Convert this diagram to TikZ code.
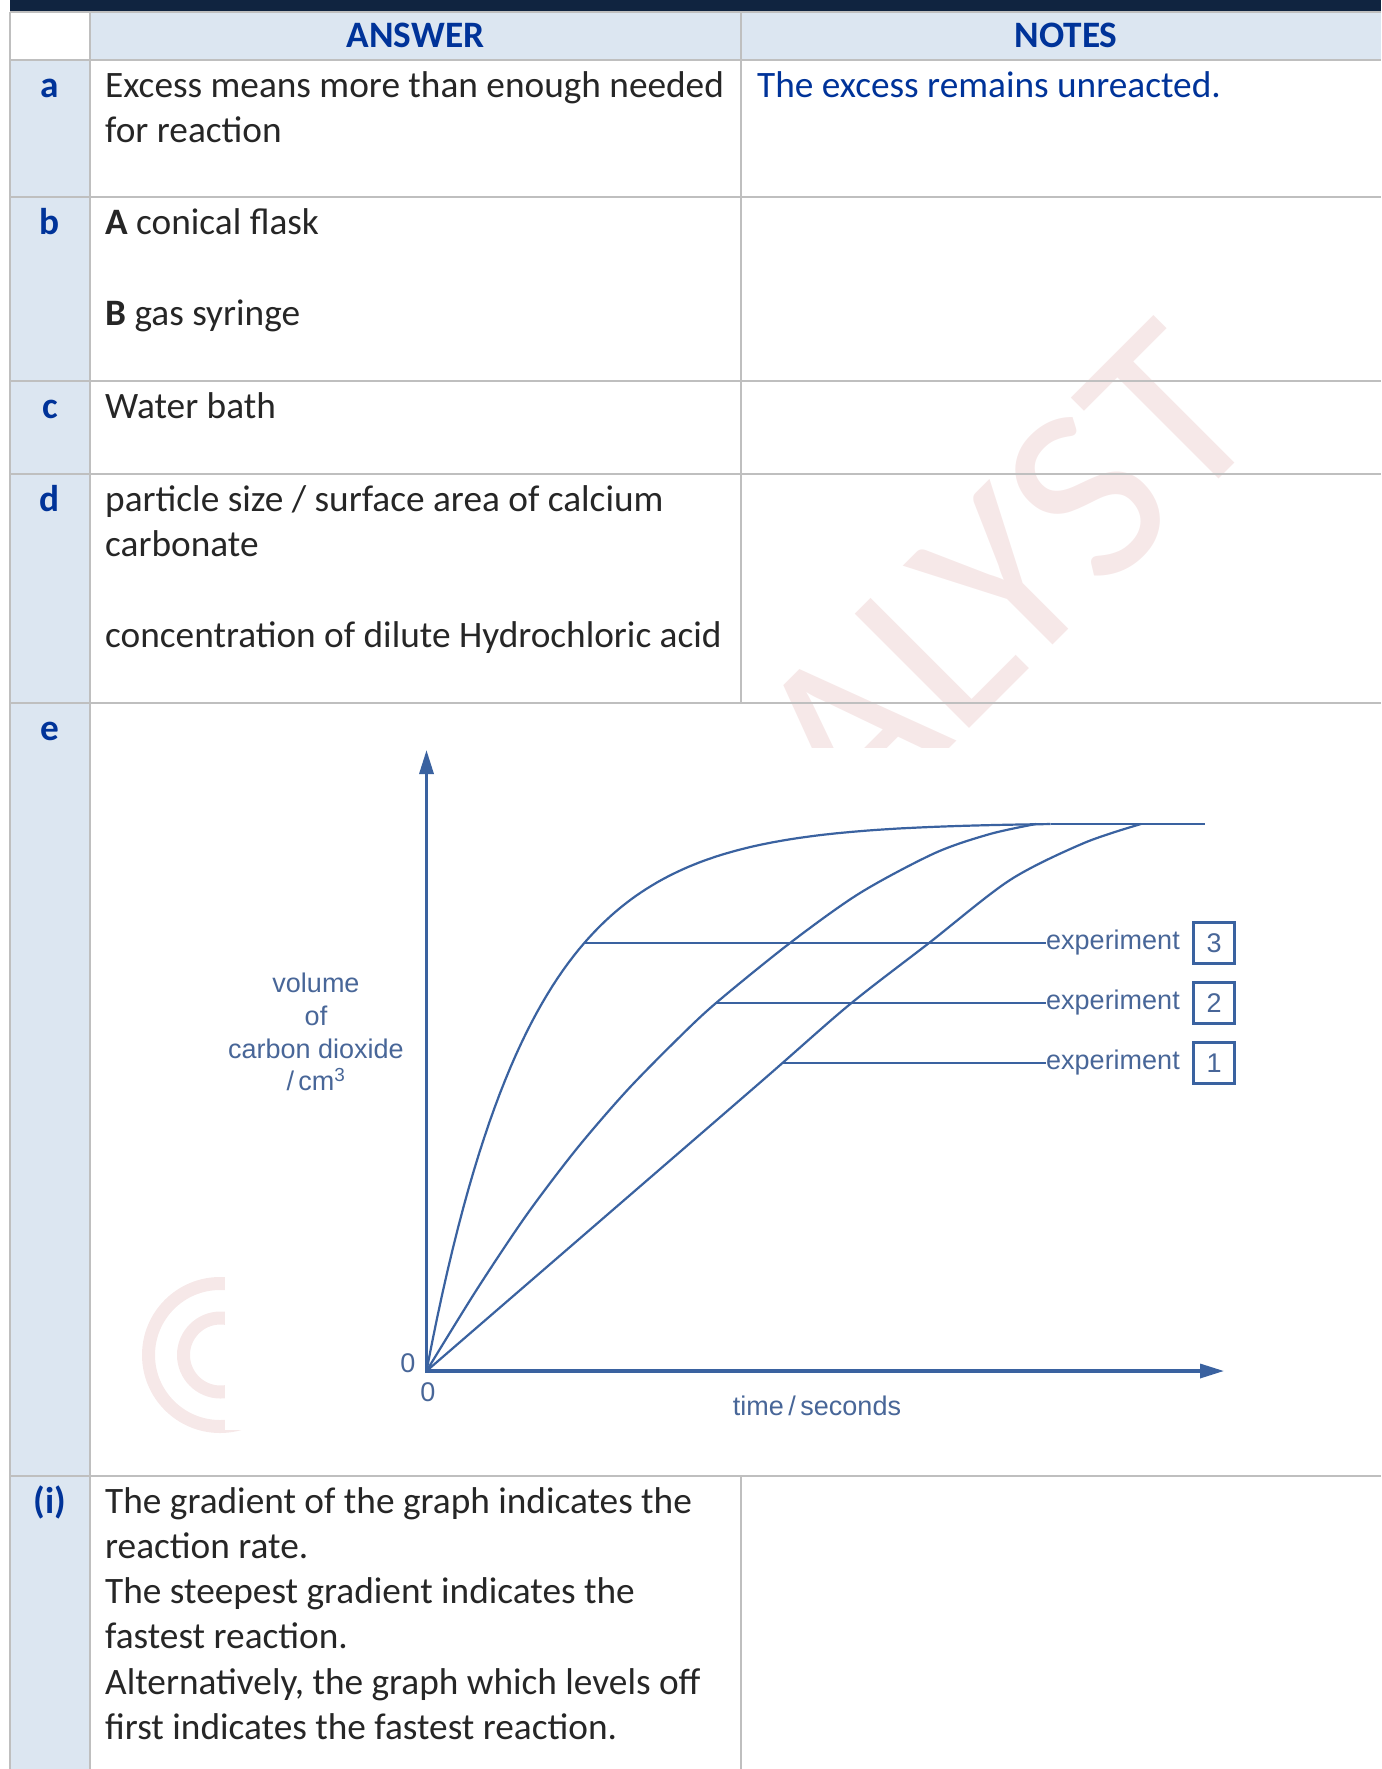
\documentclass[tikz,border=0pt]{standalone}
\usepackage{fontspec}
\setmainfont{Carlito}
\newfontfamily\graphfont{Liberation Sans}
\usetikzlibrary{arrows.meta}

\definecolor{topbar}{RGB}{16,36,64}
\definecolor{cellblue}{RGB}{220,230,241}
\definecolor{gridgray}{RGB}{191,191,191}
\definecolor{headblue}{RGB}{0,51,153}
\definecolor{celltext}{RGB}{38,38,38}
\definecolor{wmpink}{RGB}{246,232,232}
\definecolor{graphblue}{RGB}{58,98,160}
\definecolor{graphtext}{RGB}{72,102,152}

\tikzset{
  gridline/.style={draw=gridgray, line width=2pt},
  cell/.style={font=\fontsize{37.3}{45.3}\selectfont, text=celltext, inner sep=0pt, anchor=base west, align=left},
  note/.style={cell, text=headblue},
  head/.style={font=\fontsize{37.3}{45.3}\selectfont\bfseries, text=headblue, inner sep=0pt, anchor=base},
  wmark/.style={font=\fontsize{252}{252}\selectfont, text=wmpink, inner sep=0pt, anchor=base west, rotate=45},
  axis/.style={draw=graphblue, line width=3.3pt, {Triangle[length=24pt,width=14pt]}-{Triangle[length=24pt,width=14pt]}},
  curve/.style={draw=graphblue, line width=2.2pt},
  leader/.style={draw=graphblue, line width=1.6pt},
  glabel/.style={font=\graphfont\fontsize{27}{32.7}\selectfont, text=graphtext, inner sep=0pt},
  numbox/.style={glabel, draw=graphblue, line width=3pt, minimum width=41pt, minimum height=41pt}
}

\begin{document}
\begin{tikzpicture}[x=1pt,y=-1pt]
  \useasboundingbox (0,0) rectangle (1381,1769);

  % Hintergruende
  \fill[topbar] (10,0) rectangle (1381,12);
  \fill[cellblue] (90,12) rectangle (1381,60);
  \fill[cellblue] (10,60) rectangle (90,1769);

  % Wasserzeichen
  \node[wmark] (wm) at (854,844) {ALYST};
  \draw[wmpink, line width=13pt] (220,1355) circle (71.5);
  \draw[wmpink, line width=13pt] (220.5,1355) circle (37);
  \fill[white] (225,748) rectangle (1300,1430);

  % Tabellenlinien
  \draw[gridline] (10,12) -- (10,1769);
  \draw[gridline] (90,12) -- (90,1769);
  \draw[gridline] (741,12) -- (741,703);
  \draw[gridline] (741,1476) -- (741,1769);
  \draw[gridline] (10,12) -- (1381,12);
  \draw[gridline] (10,60) -- (1381,60);
  \draw[gridline] (10,197) -- (1381,197);
  \draw[gridline] (10,381) -- (1381,381);
  \draw[gridline] (10,474) -- (1381,474);
  \draw[gridline] (10,703) -- (1381,703);
  \draw[gridline] (10,1476) -- (1381,1476);

  % Kopfzeile
  \node[head] (hanswer) at (415.5,48) {ANSWER};
  \node[head] (hnotes) at (1066,48) {NOTES};

  % Zeilen (base = letzte Zeile)
  \node[head] (la) at (50,97) {a};
  \node[cell] (ansa) at (105,142.3) {Excess means more than enough needed\\for reaction};
  \node[note] (nota) at (757,97) {The excess remains unreacted.};

  \node[head] (lb) at (50,234) {b};
  \node[cell] (ansbA) at (105,234) {\textbf{A} conical flask};
  \node[cell] (ansbB) at (105,325) {\textbf{B} gas syringe};

  \node[head] (lc) at (50,418) {c};
  \node[cell] (ansc) at (105,418) {Water bath};

  \node[head] (ld) at (50,511) {d};
  \node[cell] (ansd) at (105,556.3) {particle size / surface area of calcium\\carbonate};
  \node[cell] (ansd2) at (105,647) {concentration of dilute Hydrochloric acid};

  \node[head] (le) at (50,740) {e};

  \node[head] (li) at (50,1513) {(i)};
  \node[cell] (ansi) at (105,1739.5) {The gradient of the graph indicates the\\reaction rate.\\The steepest gradient indicates the\\fastest reaction.\\Alternatively, the graph which levels off\\first indicates the fastest reaction.};

  % Achsen
  \coordinate (O) at (426.5,1371);
  \coordinate (ytip) at (426.5,750);
  \coordinate (xtip) at (1224,1371);
  \draw[axis] (ytip) -- (O) -- (xtip);

  % Kurven
  \draw[curve] plot[domain=0:624, samples=120] ({426.5+\x},{1371-547*(1-exp(-\x/104))/0.99752});
  \draw[curve] plot[smooth] coordinates {(426.5,1371) (476.5,1290) (526.5,1215) (576.5,1149) (626.5,1091) (676.5,1040) (716,1003) (790,943) (860,893) (935,853) (990,834) (1036,824)};
  \draw[curve] plot[smooth] coordinates {(426.5,1371) (600,1221) (763,1080) (849,1005) (929,943) (1010,880) (1084,843) (1141,824)};
  \draw[curve] (1050.5,824) -- (1205,824);

  % Beschriftung
  \coordinate (c3) at (585,943);
  \coordinate (c2) at (716,1003);
  \coordinate (c1) at (782,1063);
  \node[glabel, anchor=west] (exp3) at (1046,943) {experiment};
  \node[glabel, anchor=west] (exp2) at (1046,1003) {experiment};
  \node[glabel, anchor=west] (exp1) at (1046,1063) {experiment};
  \node[numbox] (n3) at (1214,943) {3};
  \node[numbox] (n2) at (1214,1003) {2};
  \node[numbox] (n1) at (1214,1063) {1};
  \draw[leader] (c3) -- (exp3.west);
  \draw[leader] (c2) -- (exp2.west);
  \draw[leader] (c1) -- (exp1.west);

  \node[glabel, align=center] (ylab) at (316,1032) {volume\\of\\carbon dioxide\\/\,cm\textsuperscript{3}};
  \node[glabel] (zy) at (408,1363) {0};
  \node[glabel] (zx) at (428,1392) {0};
  \node[glabel] (xlab) at (817,1406) {time\,/\,seconds};
\end{tikzpicture}
\end{document}
